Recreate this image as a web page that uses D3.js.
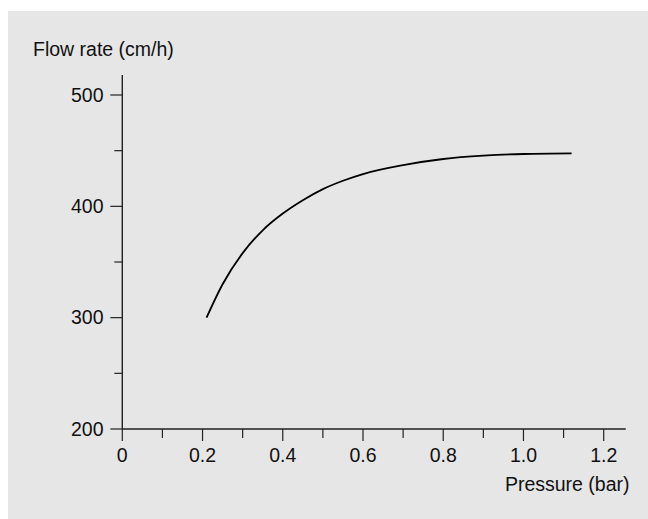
<!DOCTYPE html>
<html>
<head>
<meta charset="utf-8">
<script src="https://cdn.jsdelivr.net/npm/d3@7"></script>
<style>
  body { margin: 0; background: #fff; }
  text { font-family: "Liberation Sans", Arial, sans-serif; fill: #111; }
</style>
</head>
<body>
<div id="chart"></div>
<script>
// Data
const pressure = [0.21, 0.25, 0.30, 0.35, 0.40, 0.45, 0.50, 0.55, 0.60, 0.70, 0.80, 0.90, 1.00, 1.12];
const flowRate = [300, 330, 358, 378.5, 393.5, 405.5, 415.5, 423, 429, 437, 442.5, 445.5, 447, 447.5];

const xMajor = [0, 0.2, 0.4, 0.6, 0.8, 1.0, 1.2];
const xMinor = [0.1, 0.3, 0.5, 0.7, 0.9, 1.1];
const yMajor = [200, 300, 400, 500];
const yMinor = [250, 350, 450];

const width = 648;
const height = 519;
const fontSize = 19.5;

const svg = d3.select("#chart")
  .append("svg")
  .attr("width", width)
  .attr("height", height);

// grey panel
svg.append("rect")
  .attr("x", 8).attr("y", 11)
  .attr("width", width - 8).attr("height", height - 11)
  .attr("fill", "#e6e6e6");

// Scales
const x = d3.scaleLinear().domain([0, 1.2]).range([122.3, 603.7]);
const y = d3.scaleLinear().domain([200, 500]).range([429, 95]);

const axisColor = "#222";

// axis lines
svg.append("line")
  .attr("x1", x(0)).attr("x2", x(1.255))
  .attr("y1", y(200)).attr("y2", y(200))
  .attr("stroke", axisColor).attr("stroke-width", 1.4);

svg.append("line")
  .attr("x1", x(0)).attr("x2", x(0))
  .attr("y1", y(200)).attr("y2", y(518))
  .attr("stroke", axisColor).attr("stroke-width", 1.4);

// x ticks
svg.append("g").selectAll("line")
  .data(xMajor)
  .join("line")
  .attr("x1", d => x(d)).attr("x2", d => x(d))
  .attr("y1", y(200)).attr("y2", y(200) + 12)
  .attr("stroke", axisColor).attr("stroke-width", 1.2);

svg.append("g").selectAll("line")
  .data(xMinor)
  .join("line")
  .attr("x1", d => x(d)).attr("x2", d => x(d))
  .attr("y1", y(200)).attr("y2", y(200) + 9)
  .attr("stroke", axisColor).attr("stroke-width", 1.2);

svg.append("g").selectAll("text")
  .data(xMajor)
  .join("text")
  .attr("x", d => x(d))
  .attr("y", 461.7)
  .attr("text-anchor", "middle")
  .style("font-size", fontSize + "px")
  .text(d => d === 0 ? "0" : d.toFixed(1));

// y ticks
svg.append("g").selectAll("line")
  .data(yMajor)
  .join("line")
  .attr("x1", x(0) - 12).attr("x2", x(0))
  .attr("y1", d => y(d)).attr("y2", d => y(d))
  .attr("stroke", axisColor).attr("stroke-width", 1.2);

svg.append("g").selectAll("line")
  .data(yMinor)
  .join("line")
  .attr("x1", x(0) - 8).attr("x2", x(0))
  .attr("y1", d => y(d)).attr("y2", d => y(d))
  .attr("stroke", axisColor).attr("stroke-width", 1.2);

svg.append("g").selectAll("text")
  .data(yMajor)
  .join("text")
  .attr("x", 103.5)
  .attr("y", d => y(d))
  .attr("dy", "0.35em")
  .attr("text-anchor", "end")
  .style("font-size", fontSize + "px")
  .text(d => d);

// axis titles
svg.append("text")
  .attr("x", 33).attr("y", 56)
  .style("font-size", fontSize + "px")
  .text("Flow rate (cm/h)");

svg.append("text")
  .attr("x", 629.5).attr("y", 490.7)
  .attr("text-anchor", "end")
  .style("font-size", fontSize + "px")
  .text("Pressure (bar)");

// curve
const line = d3.line()
  .x(d => x(d[0]))
  .y(d => y(d[1]))
  .curve(d3.curveMonotoneX);

svg.append("path")
  .datum(d3.zip(pressure, flowRate))
  .attr("d", line)
  .attr("fill", "none")
  .attr("stroke", "#000")
  .attr("stroke-width", 1.8);
</script>
</body>
</html>
